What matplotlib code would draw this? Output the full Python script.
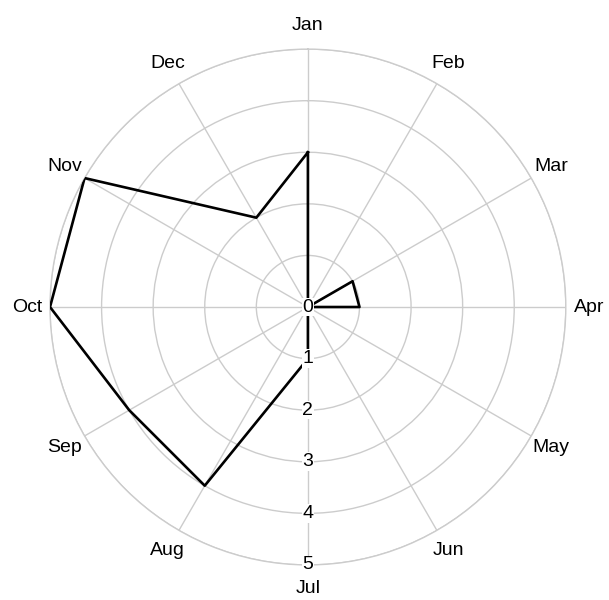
import numpy as np
import matplotlib.pyplot as plt

plt.rcParams['font.family'] = ['Liberation Sans', 'DejaVu Sans']

months = ['Jan', 'Feb', 'Mar', 'Apr', 'May', 'Jun',
          'Jul', 'Aug', 'Sep', 'Oct', 'Nov', 'Dec']
values = [3, 0, 1, 1, 0, 0, 1, 4, 4, 5, 5, 2]
rings = [1, 2, 3, 4, 5]


def main():
    fig = plt.figure(figsize=(6.09, 6.0), dpi=100)
    ax = fig.add_axes([0.0821, 0.0583, 0.847, 0.86], projection='polar')
    ax.set_theta_zero_location('N')
    ax.set_theta_direction(-1)

    theta = np.arange(len(months)) * 2 * np.pi / len(months)
    ax.set_xticks(theta)
    ax.set_xticklabels([])
    ax.set_yticks(rings)
    ax.set_yticklabels([])
    ax.set_ylim(0, 5)
    ax.grid(color='#cccccc', linewidth=1.0)
    ax.spines['polar'].set_color('#cccccc')
    ax.spines['polar'].set_linewidth(1.0)

    t = np.append(theta, theta[0])
    v = values + [values[0]]
    ax.plot(t, v, color='black', linewidth=1.9, zorder=3)

    for th, m in zip(theta, months):
        ax.text(th, 5.45, m, ha='center', va='center', fontsize=14,
                clip_on=False)

    for r in [0] + rings:
        ax.text(np.pi, r, str(r), ha='center', va='center', fontsize=14,
                zorder=4,
                bbox=dict(facecolor='white', edgecolor='none', pad=0.5))

    fig.savefig('out.png')


main()
